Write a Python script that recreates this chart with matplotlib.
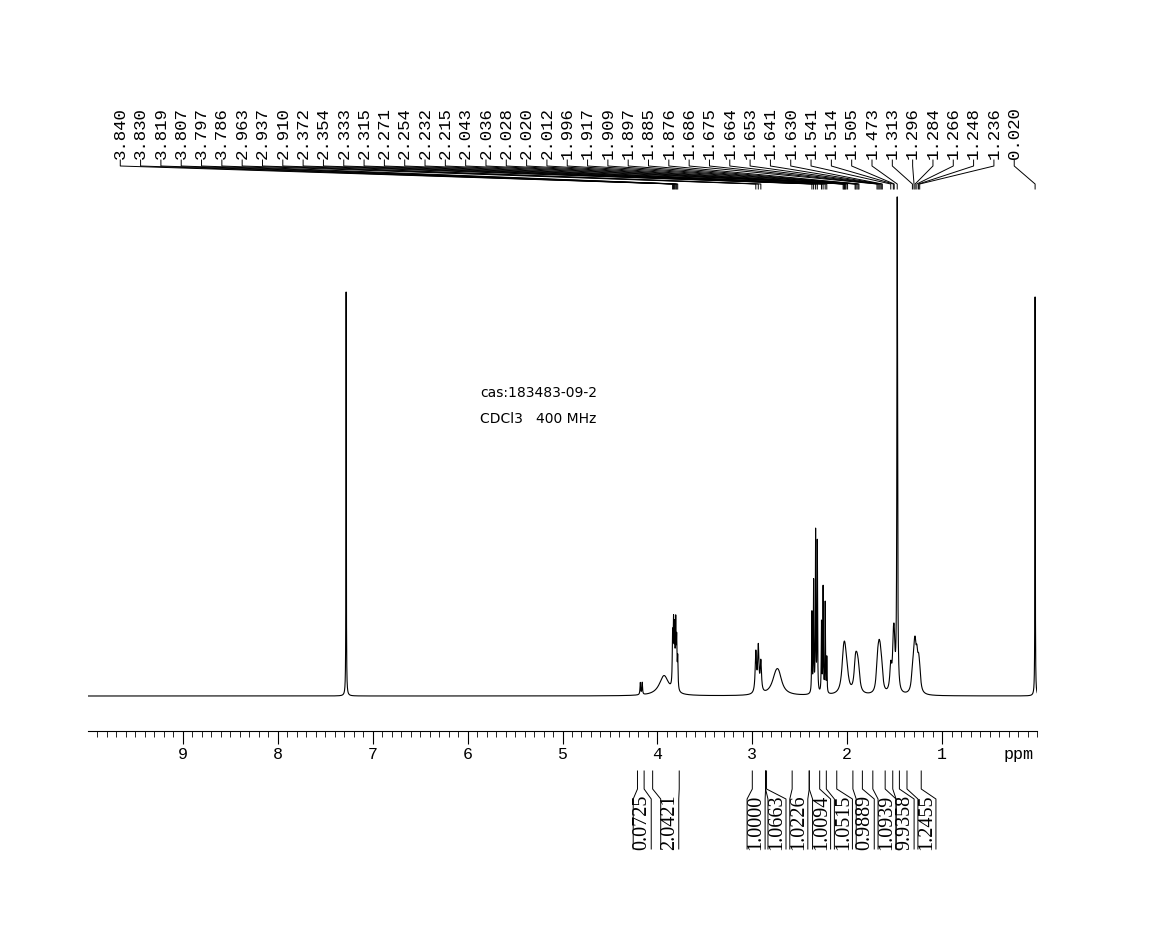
import numpy as np
import matplotlib
matplotlib.use('Agg')
import matplotlib.pyplot as plt

# peak list: position (ppm), height (px above baseline), half width (ppm)
peak_ppm = [7.28, 4.18, 4.16, 3.93, 3.840, 3.830, 3.819, 3.807, 3.797, 3.786,
            2.963, 2.937, 2.910, 2.75, 2.72,
            2.372, 2.354, 2.333, 2.315, 2.271, 2.254, 2.232, 2.215,
            2.043, 2.036, 2.028, 2.020, 2.012, 1.996,
            1.917, 1.909, 1.897, 1.885, 1.876,
            1.686, 1.675, 1.664, 1.653, 1.641, 1.630,
            1.541, 1.514, 1.505, 1.473,
            1.313, 1.296, 1.284, 1.266, 1.248, 1.236, 0.020]
peak_h = [405, 12, 12, 20, 50, 60, 55, 62, 45, 30,
          40, 45, 30, 18, 12,
          80, 110, 160, 150, 70, 105, 90, 35,
          14, 15, 14, 12, 9, 6,
          14, 16, 16, 13, 8,
          16, 20, 24, 22, 17, 9,
          25, 35, 40, 492,
          16, 26, 32, 28, 22, 14, 400]
peak_w = [0.002, 0.004, 0.004, 0.06, 0.004, 0.004, 0.004, 0.004, 0.004, 0.004,
          0.008, 0.008, 0.008, 0.05, 0.04,
          0.003, 0.003, 0.003, 0.003, 0.003, 0.003, 0.003, 0.003,
          0.02, 0.02, 0.02, 0.02, 0.02, 0.02,
          0.015, 0.015, 0.015, 0.015, 0.015,
          0.012, 0.012, 0.012, 0.012, 0.012, 0.012,
          0.012, 0.01, 0.01, 0.004,
          0.012, 0.012, 0.012, 0.012, 0.012, 0.012, 0.002]

top_labels = ["3.840", "3.830", "3.819", "3.807", "3.797", "3.786", "2.963", "2.937",
              "2.910", "2.372", "2.354", "2.333", "2.315", "2.271", "2.254", "2.232",
              "2.215", "2.043", "2.036", "2.028", "2.020", "2.012", "1.996", "1.917",
              "1.909", "1.897", "1.885", "1.876", "1.686", "1.675", "1.664", "1.653",
              "1.641", "1.630", "1.541", "1.514", "1.505", "1.473", "1.313", "1.296",
              "1.284", "1.266", "1.248", "1.236", "0.020"]

int_values = ["0.0725", "2.0421", "1.0000", "1.0663", "1.0226", "1.0094", "1.0515",
              "0.9889", "1.0939", "9.9358", "1.2455"]
int_label_ppm = [4.16, 3.87, 2.96, 2.74, 2.51, 2.27, 2.04, 1.81, 1.58, 1.39, 1.16]
int_ranges = [(4.21, 4.14), (4.05, 3.77), (3.00, 2.86), (2.86, 2.85), (2.58, 2.40),
              (2.40, 2.29), (2.22, 2.11), (1.94, 1.84), (1.73, 1.60), (1.52, 1.45),
              (1.37, 1.22)]

x = np.linspace(10.0, -0.05, 40000)
y = np.zeros_like(x)
for p, h, w in zip(peak_ppm, peak_h, peak_w):
    y += h / (1 + ((x - p) / w) ** 2)

fig = plt.figure(figsize=(11.54, 9.53), dpi=100)
# axes: pixel-sized data units, bottom at 732 px, top at 0 px
ax = fig.add_axes([88 / 1154, 221 / 953, 949 / 1154, 732 / 953])
ax.plot(x, y, color='black', lw=0.8)
ax.set_xlim(10.0, 0.0)
ax.set_ylim(-35, 697)
for s in ['top', 'left', 'right']:
    ax.spines[s].set_visible(False)
ax.spines['bottom'].set_linewidth(0.8)
ax.set_yticks([])
ax.set_xticks(range(1, 10))
ax.set_xticklabels([str(i) for i in range(1, 10)], fontfamily='Liberation Mono', fontsize=12)
ax.set_xticks(np.arange(0, 10.0, 0.1), minor=True)
ax.tick_params(axis='x', which='major', direction='out', length=9, width=0.8, pad=2)
ax.tick_params(axis='x', which='minor', direction='out', length=4, width=0.6)
ax.text(0.19, -58, "ppm", fontfamily='Liberation Mono', fontsize=12, ha='center', va='center',
        clip_on=False)

# peak labels on top
lab_x = np.linspace(9.66, 0.24, len(top_labels))
for lx, t in zip(lab_x, top_labels):
    px = float(t)
    ax.text(lx, 538, t, rotation=90, ha='center', va='bottom',
            fontfamily='Liberation Mono', fontsize=12.5)
    ax.plot([lx, lx, px, px], [536, 530, 512, 507], color='black', lw=0.7)

ax.text(5.87, 300, "cas:183483-09-2", fontfamily='DejaVu Sans', fontsize=10)
ax.text(5.87, 274, "CDCl3   400 MHz", fontfamily='DejaVu Sans', fontsize=10)

# integrals under the axis
for lp, (a, b), v in zip(int_label_ppm, int_ranges, int_values):
    hw = 0.095
    ax.plot([a, a, lp + hw, lp + hw], [-75, -93, -103, -153], color='black', lw=0.7,
            clip_on=False)
    ax.plot([b, b, lp - hw, lp - hw], [-75, -93, -103, -153], color='black', lw=0.7,
            clip_on=False)
    ax.text(lp, -153, v, rotation=90, ha='center', va='bottom',
            fontfamily='Liberation Serif', fontsize=14.5, clip_on=False)

fig.savefig('out.png', dpi=100)
